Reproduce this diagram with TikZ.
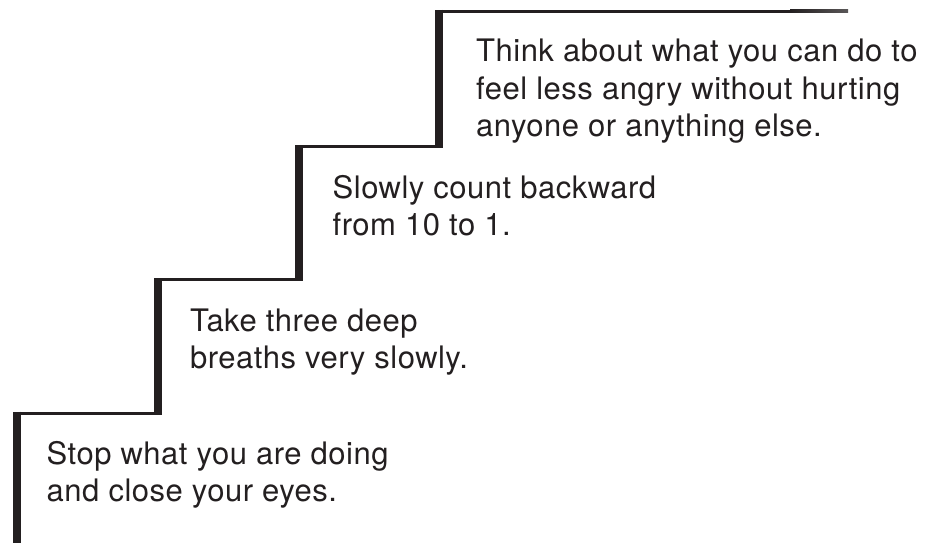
\documentclass[tikz,border=0pt]{standalone}
\usepackage{fontspec}
\setmainfont[LetterSpace=1.6]{TeX Gyre Heros}
\usetikzlibrary{positioning}
\definecolor{inkc}{RGB}{35,31,32}
\tikzset{
  riser/.style={draw=inkc, line width=7.5pt},
  tread/.style={draw=inkc, line width=3pt},
  steptext/.style={anchor=base west, align=left, inner sep=0pt, text=inkc, font=\fontsize{31}{37.5}\selectfont}
}
\begin{document}
\begin{tikzpicture}[x=1pt, y=-1pt]
  \useasboundingbox (0,0) rectangle (935,543);

  % corners of the stairs (riser x, tread y)
  \coordinate (s0) at (17,413);
  \coordinate (s1) at (158,279.5);
  \coordinate (s2) at (299,146.5);
  \coordinate (s3) at (439,11.5);

  % risers
  \draw[riser] ([yshift=1.5pt]s0) -- (17,545);
  \draw[riser] ([yshift=1.5pt]s1) -- (158,414.5);
  \draw[riser] ([yshift=1.5pt]s2) -- (299,281);
  \draw[riser] ([yshift=1.5pt]s3) -- (439,148);

  % treads
  \draw[tread] ([xshift=-3.75pt]s0) -- (161.75,413);
  \draw[tread] ([xshift=-3.75pt]s1) -- (302.75,279.5);
  \draw[tread] ([xshift=-3.75pt]s2) -- (442.75,146.5);
  \draw[tread] ([xshift=-3.75pt]s3) -- (790,11.5);
  \shade[left color=inkc, right color=inkc!75] (790,10) rectangle (848,13);

  % texts, placed at the baseline of their last line
  \node[steptext] (t0) at (46.5,501.5) {Stop what you are doing\\and close your eyes.};
  \node[steptext] (t1) at (190,368.5) {Take three deep\\breaths very slowly.};
  \node[steptext] (t2) at (332.5,235.5) {Slowly count backward\\from 10 to 1.};
  \node[steptext] (t3) at (476,136.5) {Think about what you can do to\\feel less angry without hurting\\anyone or anything else.};
\end{tikzpicture}
\end{document}
